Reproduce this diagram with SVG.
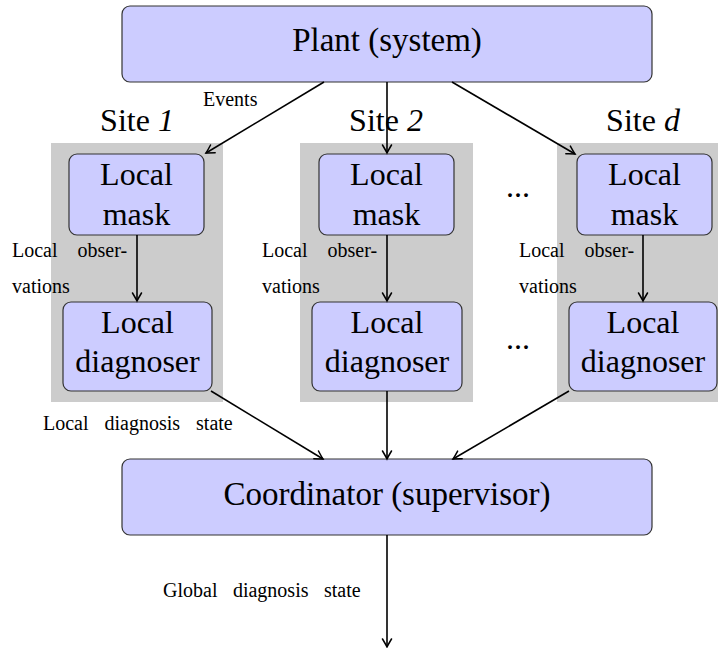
<svg xmlns="http://www.w3.org/2000/svg" width="718" height="648" viewBox="0 0 718 648">
<style>
  .box { fill: #CCCCFF; stroke: #333333; stroke-width: 1.2; }
  .site { fill: #CCCCCC; stroke: none; }
  .big { font-size: 32px; fill: #000; text-anchor: middle; }
  .huge { font-size: 33px; fill: #000; text-anchor: middle; }
  .small { font-size: 20px; fill: #000; }
  .edge { stroke: #000; stroke-width: 1.6; fill: none; marker-end: url(#arr); }
</style>
<defs>
  <marker id="arr" markerUnits="userSpaceOnUse" markerWidth="14" markerHeight="12" viewBox="-9 -6 10 12" refX="0" refY="0" orient="auto" overflow="visible">
    <path d="M -8 -4.5 Q -2.5 -1.2 0 0 Q -2.5 1.2 -8 4.5" stroke="#000" stroke-width="1.5" fill="none" stroke-linecap="round"/>
  </marker>
</defs>

<g id="site1-bg"><rect class="site" x="51" y="143" width="172" height="259"/></g>
<g id="site2-bg"><rect class="site" x="300" y="143" width="173" height="259"/></g>
<g id="sited-bg"><rect class="site" x="557" y="143" width="173" height="259"/></g>

<g font-family="'Liberation Serif', 'DejaVu Serif', serif">
<g id="plant">
  <rect class="box" x="122" y="6" width="530" height="76" rx="8"/>
  <text class="huge" x="387" y="51">Plant (system)</text>
</g>

<g id="site1-label"><text class="big" x="137" y="131">Site <tspan font-style="italic">1</tspan></text></g>
<g id="site2-label"><text class="big" x="386" y="131">Site <tspan font-style="italic">2</tspan></text></g>
<g id="sited-label"><text class="big" x="643" y="131">Site <tspan font-style="italic">d</tspan></text></g>

<g id="mask1">
  <rect class="box" x="69" y="154" width="135" height="81" rx="8"/>
  <text class="big" x="136.5" y="185">Local</text>
  <text class="big" x="136.5" y="225">mask</text>
</g>
<g id="mask2">
  <rect class="box" x="319" y="154" width="135" height="81" rx="8"/>
  <text class="big" x="386.5" y="185">Local</text>
  <text class="big" x="386.5" y="225">mask</text>
</g>
<g id="maskd">
  <rect class="box" x="577" y="154" width="135" height="81" rx="8"/>
  <text class="big" x="644.5" y="185">Local</text>
  <text class="big" x="644.5" y="225">mask</text>
</g>

<g id="diag1">
  <rect class="box" x="63" y="302" width="149" height="89" rx="8"/>
  <text class="big" x="137.5" y="333">Local</text>
  <text class="big" x="137.5" y="372">diagnoser</text>
</g>
<g id="diag2">
  <rect class="box" x="312" y="302" width="150" height="89" rx="8"/>
  <text class="big" x="387" y="333">Local</text>
  <text class="big" x="387" y="372">diagnoser</text>
</g>
<g id="diagd">
  <rect class="box" x="569" y="302" width="148" height="89" rx="8"/>
  <text class="big" x="643" y="333">Local</text>
  <text class="big" x="643" y="372">diagnoser</text>
</g>

<g id="dots1"><text class="big" x="518" y="197">...</text></g>
<g id="dots2"><text class="big" x="518" y="349">...</text></g>

<g id="coordinator">
  <rect class="box" x="122" y="459" width="530" height="76" rx="8"/>
  <text class="huge" x="387" y="505">Coordinator (supervisor)</text>
</g>

<g id="labels">
  <text class="small" x="203" y="106">Events</text>
  <text class="small" x="12" y="257" word-spacing="15">Local obser-</text>
  <text class="small" x="12" y="293">vations</text>
  <text class="small" x="262" y="257" word-spacing="15">Local obser-</text>
  <text class="small" x="262" y="293">vations</text>
  <text class="small" x="519" y="257" word-spacing="15">Local obser-</text>
  <text class="small" x="519" y="293">vations</text>
  <text class="small" x="43" y="430" word-spacing="11">Local diagnosis state</text>
  <text class="small" x="163" y="597" word-spacing="10.5">Global diagnosis state</text>
</g>
</g>

<g id="connectors">
  <line class="edge" x1="324" y1="82" x2="206" y2="153"/>
  <line class="edge" x1="387" y1="82" x2="387" y2="153"/>
  <line class="edge" x1="452" y1="82" x2="575" y2="154"/>
  <line class="edge" x1="137" y1="235" x2="137" y2="301"/>
  <line class="edge" x1="387" y1="235" x2="387" y2="301"/>
  <line class="edge" x1="643" y1="235" x2="643" y2="301"/>
  <line class="edge" x1="211" y1="391" x2="323" y2="459"/>
  <line class="edge" x1="387" y1="391" x2="387" y2="459"/>
  <line class="edge" x1="569" y1="391" x2="453" y2="459"/>
  <line class="edge" x1="387" y1="535" x2="387" y2="647"/>
</g>
</svg>
